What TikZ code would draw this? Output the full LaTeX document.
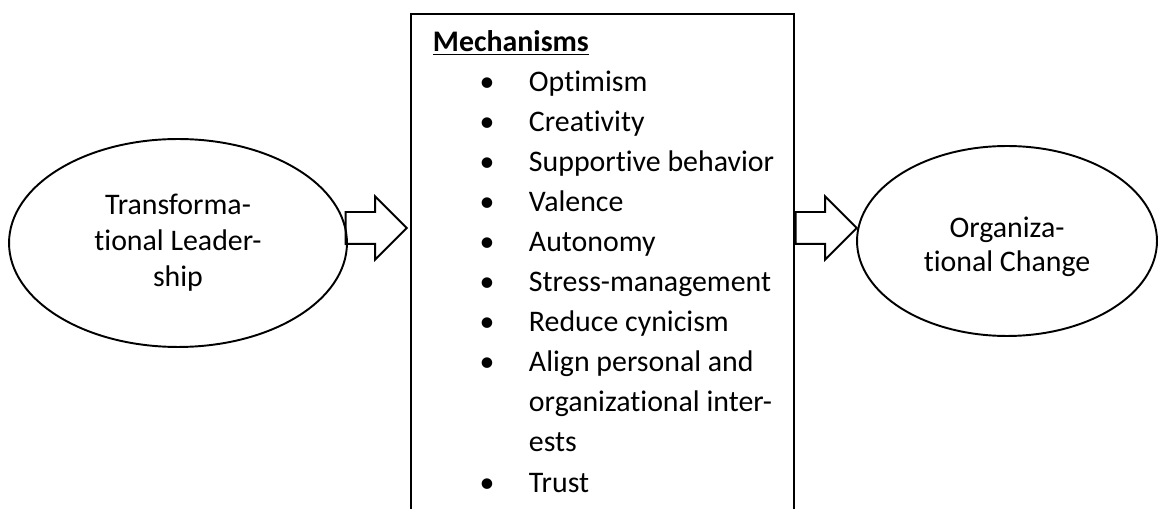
\documentclass[tikz,border=0pt]{standalone}
\usepackage{fontspec}
\setmainfont{Carlito}[Ligatures=NoCommon]
\usetikzlibrary{shapes.geometric,shapes.arrows}

\begin{document}
\begin{tikzpicture}[x=0.02cm, y=-0.02cm, line width=1.1pt,
  every node/.style={font=\fontsize{17pt}{20pt}\selectfont},
  oval/.style={draw, ellipse, inner sep=0pt, align=center},
  blockarrow/.style={draw, single arrow, minimum height=1.22cm, single arrow head extend=0.31cm,
    inner xsep=0pt, inner ysep=0.3cm, anchor=tip},
  item/.style={anchor=base west, inner sep=0pt},
  dot/.style={anchor=base, inner sep=0pt}]
\clip (0,0) rectangle (1159,509);
% left and right ovals
\node[oval, minimum width=6.76cm, minimum height=4.16cm, font=\fontsize{17pt}{20.5pt}\selectfont]
  (lead) at (178,243) {Transforma-\\tional Leader-\\ship};
\node[oval, minimum width=6.0cm, minimum height=3.8cm,
  label={[align=center, yshift=-0.12cm, font=\fontsize{17pt}{19.4pt}\selectfont]center:Organiza-\\tional Change}]
  (change) at (1007,241) {};
% middle box, runs off the bottom
\node[draw, anchor=north west, inner sep=0pt, minimum width=7.66cm, minimum height=10.8cm] (mech) at (410,13) {};
\node[item] (title) at (432,52) {\underline{\textbf{Mechanisms}}};
\foreach \t [count=\i] in {Optimism, Creativity, Supportive behavior, Valence, Autonomy,
    Stress-management, Reduce cynicism, Align personal and, organizational inter-, ests, Trust}
  \node[item] (l\i) at (528,52+40*\i) {\t};
\foreach \i in {1,2,3,4,5,6,7,8,11}
  \node[dot] (b\i) at (487,52+40*\i) {•};
% block arrows
\node[blockarrow] (arr1) at (408,228) {};
\node[blockarrow] (arr2) at (858,228) {};
\end{tikzpicture}
\end{document}
